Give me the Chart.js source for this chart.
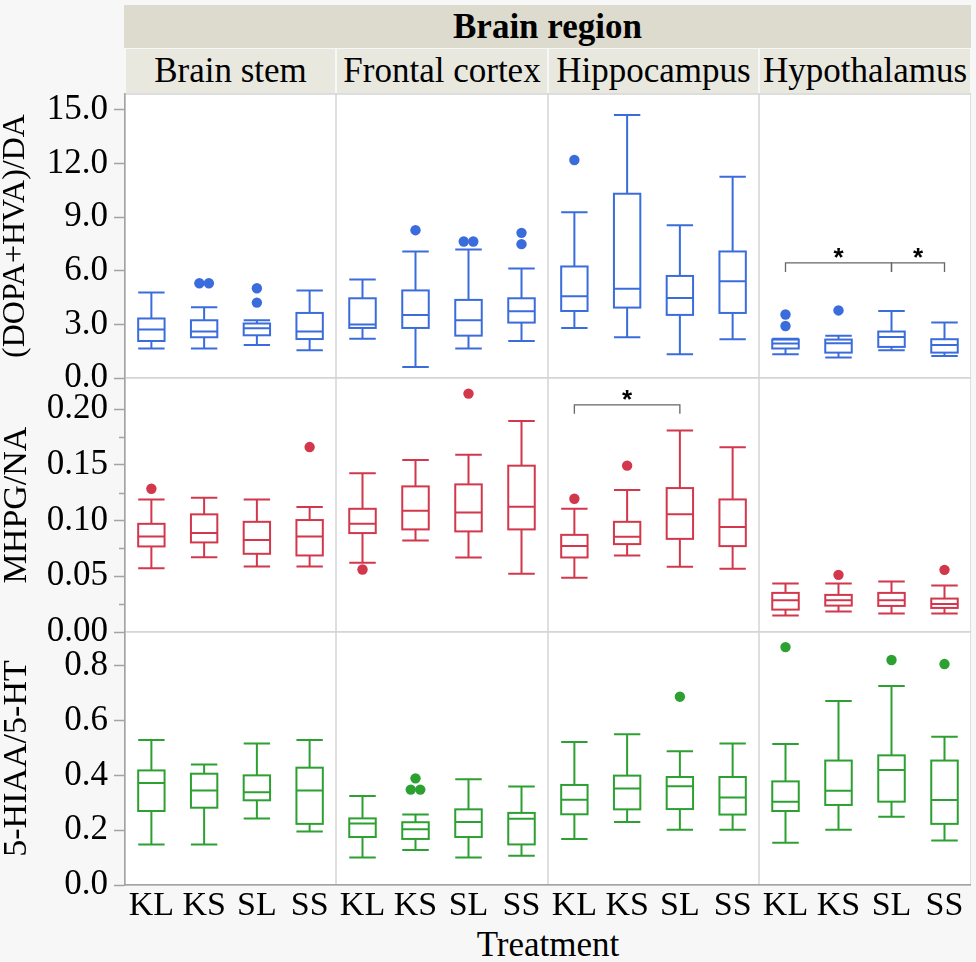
<!DOCTYPE html>
<html>
<head>
<meta charset="utf-8">
<title>Brain region metabolite ratios</title>
<script src="https://cdn.jsdelivr.net/npm/chart.js"></script>
<style>
  body { margin: 0; background: #f7f7f7; font-family: 'Liberation Serif', 'Times New Roman', serif; }
  #fig { position: relative; width: 976px; height: 962px; overflow: hidden; }
  .band, .strip, .xtitle { position: absolute; text-align: center; color: #000; font-size: 35px; white-space: nowrap; }
  .band { left: 124px; top: 5px; width: 847px; height: 43px; line-height: 43px; background: #dcdbce; font-weight: bold; }
  .strip { top: 49px; height: 44px; line-height: 44px; background: #e8e8df; }
  .xtitle { left: 125px; width: 846px; top: 925px; line-height: 40px; }
  canvas { position: absolute; }
</style>
</head>
<body>
<div id="fig">
  <div class="band">Brain region</div>
  <div class="xtitle">Treatment</div>
</div>
<script>
// Categories
const treatments = ['KL', 'KS', 'SL', 'SS'];
const regions = ['Brain stem', 'Frontal cortex', 'Hippocampus', 'Hypothalamus'];
const measures = ['(DOPA+HVA)/DA', 'MHPG/NA', '5-HIAA/5-HT'];

// Tick labels per measure
const daTicks = [0, 3, 6, 9, 12, 15];
const mhpgTicks = [0, 0.05, 0.10, 0.15, 0.20];
const mhpgMinorTicks = [0.025, 0.075, 0.125, 0.175];
const hiaaTicks = [0, 0.2, 0.4, 0.6, 0.8];
const yMax = [15.89, 0.228, 0.923];
const tickDecimals = [1, 2, 1];

// (DOPA+HVA)/DA : one row per brain region, columns KL, KS, SL, SS
const daLow =    [[1.65, 1.65, 1.85, 1.55], [2.19, 0.62, 1.65, 2.07], [2.80, 2.28, 1.33, 2.17], [1.33, 1.14, 1.55, 1.23]];
const daQ1 =     [[2.07, 2.28, 2.39, 2.18], [2.80, 2.80, 2.37, 3.10], [3.75, 3.94, 3.53, 3.64], [1.65, 1.42, 1.74, 1.42]];
const daMedian = [[2.71, 2.60, 2.78, 2.60], [2.99, 3.53, 3.23, 3.74], [4.58, 4.99, 4.48, 5.42], [1.93, 1.94, 2.30, 1.85]];
const daQ3 =     [[3.33, 3.23, 3.05, 3.64], [4.46, 4.90, 4.37, 4.46], [6.24, 10.31, 5.71, 7.08], [2.15, 2.15, 2.60, 2.17]];
const daHigh =   [[4.78, 3.96, 3.23, 4.90], [5.51, 7.08, 7.19, 6.13], [9.27, 14.72, 8.54, 11.26], [2.20, 2.37, 3.75, 3.10]];
const daOutliers = [
  [[], [5.30, 5.30], [5.02, 4.22], []],
  [[], [8.27], [7.64, 7.64], [8.12, 7.49]],
  [[12.2], [], [], []],
  [[3.55, 2.91], [3.78], [], []]
];

// MHPG/NA
const mhpgLow =    [[0.0573, 0.0672, 0.0588, 0.0588], [0.0621, 0.0822, 0.0669, 0.0522], [0.0486, 0.0687, 0.0585, 0.0567], [0.0147, 0.0183, 0.0165, 0.0165]];
const mhpgQ1 =     [[0.0768, 0.0804, 0.0702, 0.0687], [0.0888, 0.0921, 0.0903, 0.0921], [0.0669, 0.0789, 0.0836, 0.0771], [0.0201, 0.0237, 0.0234, 0.0216]];
const mhpgMedian = [[0.0858, 0.0888, 0.0825, 0.0858], [0.0971, 0.1088, 0.1073, 0.1124], [0.0771, 0.0854, 0.1056, 0.0942], [0.0285, 0.0285, 0.0285, 0.0252]];
const mhpgQ3 =     [[0.0971, 0.1056, 0.0989, 0.1005], [0.1106, 0.1307, 0.1325, 0.1493], [0.0872, 0.0989, 0.1292, 0.1190], [0.0351, 0.0333, 0.0351, 0.0300]];
const mhpgHigh =   [[0.1190, 0.1205, 0.1190, 0.1121], [0.1424, 0.1544, 0.1592, 0.1895], [0.1106, 0.1274, 0.1808, 0.1658], [0.0435, 0.0435, 0.0453, 0.0417]];
const mhpgOutliers = [
  [[0.1286], [], [], [0.166]],
  [[0.0561], [], [0.214], []],
  [[0.1196], [0.1493], [], []],
  [[], [0.0513], [], [0.0558]]
];

// 5-HIAA/5-HT
const hiaaLow =    [[0.148, 0.148, 0.243, 0.195], [0.100, 0.128, 0.100, 0.107], [0.168, 0.230, 0.202, 0.202], [0.154, 0.202, 0.249, 0.162]];
const hiaaQ1 =     [[0.270, 0.282, 0.309, 0.223], [0.175, 0.168, 0.175, 0.148], [0.258, 0.276, 0.277, 0.257], [0.270, 0.292, 0.304, 0.223]];
const hiaaMedian = [[0.372, 0.345, 0.338, 0.345], [0.224, 0.203, 0.230, 0.242], [0.311, 0.352, 0.360, 0.319], [0.304, 0.344, 0.420, 0.310]];
const hiaaQ3 =     [[0.418, 0.406, 0.400, 0.428], [0.243, 0.229, 0.276, 0.263], [0.365, 0.399, 0.394, 0.394], [0.378, 0.454, 0.473, 0.454]];
const hiaaHigh =   [[0.529, 0.440, 0.516, 0.529], [0.325, 0.257, 0.386, 0.359], [0.522, 0.550, 0.488, 0.516], [0.514, 0.671, 0.726, 0.541]];
const hiaaOutliers = [
  [[], [], [], []],
  [[], [0.389, 0.348, 0.348], [], []],
  [[], [], [0.687], []],
  [[0.868], [], [0.821], [0.806]]
];

// Significance brackets (measure row, region column, from/to treatment index, height)
const brackets = [
  { measure: 0, region: 3, from: 0, to: 2, y: 6.44 },
  { measure: 0, region: 3, from: 2, to: 3, y: 6.44 },
  { measure: 1, region: 2, from: 0, to: 2, y: 0.2039 }
];

const colors = ['#3b6cdc', '#d2374b', '#2da032'];

const yTicks = [daTicks, mhpgTicks, hiaaTicks];
const minorTicks = [[], mhpgMinorTicks, []];
const boxStats = [
  [daLow, daQ1, daMedian, daQ3, daHigh, daOutliers],
  [mhpgLow, mhpgQ1, mhpgMedian, mhpgQ3, mhpgHigh, mhpgOutliers],
  [hiaaLow, hiaaQ1, hiaaMedian, hiaaQ3, hiaaHigh, hiaaOutliers]
];

// Layout of the grid
const colLeft = [125, 336, 548, 759, 971];
const rowTop = [94, 378, 632, 885];
const PAD = 20, XAXIS_H = 50, YAXIS_W = 125;
const AXIS_GREY = '#a3a3a3';
const SERIF = "'Liberation Serif', 'Times New Roman', serif";
const titleSize = [32, 34, 34];

Chart.defaults.font.family = SERIF;
Chart.defaults.color = '#000';

const fig = document.getElementById('fig');

regions.forEach((name, c) => {
  const d = document.createElement('div');
  d.className = 'strip';
  d.style.left = (colLeft[c] + 1) + 'px';
  d.style.width = (colLeft[c + 1] - colLeft[c] - 2) + 'px';
  d.textContent = name;
  fig.appendChild(d);
});

// outliers that sit at the same height are spread sideways
function outlierPoints(list, range) {
  const pts = [];
  list.forEach((vals, i) => {
    const sorted = vals.slice().sort((a, b) => a - b);
    let k = 0;
    while (k < sorted.length) {
      let n = 1;
      while (k + n < sorted.length && sorted[k + n] - sorted[k] < range * 0.02) n++;
      for (let j = 0; j < n; j++) {
        pts.push({ x: i + (j - (n - 1) / 2) * 0.18, y: sorted[k + j] });
      }
      k += n;
    }
  });
  return pts;
}

// keep the panel edges fixed: no label overflow padding
function noPadding(s) {
  s.paddingTop = 0;
  s.paddingBottom = 0;
  s.paddingLeft = 0;
  s.paddingRight = 0;
}

const boxPlotPlugin = {
  id: 'boxPlot',
  beforeDraw(chart) {
    const { ctx, chartArea: a } = chart;
    ctx.save();
    ctx.fillStyle = '#fff';
    ctx.fillRect(a.left, a.top, a.width, a.height);
    ctx.strokeStyle = '#d4d4d4';
    ctx.lineWidth = 1.5;
    ctx.strokeRect(a.left, a.top, a.width, a.height);
    ctx.restore();
  },
  beforeDatasetsDraw(chart, args, opts) {
    const { ctx } = chart;
    const x = chart.scales.x, y = chart.scales.y;
    const half = (x.getPixelForValue(1) - x.getPixelForValue(0)) / 4;
    ctx.save();
    ctx.strokeStyle = opts.color;
    ctx.lineWidth = 2;
    opts.boxes.forEach((b, i) => {
      const cx = x.getPixelForValue(i);
      const [lo, q1, md, q3, hi] = b.map(v => y.getPixelForValue(v));
      ctx.beginPath();
      ctx.moveTo(cx, hi); ctx.lineTo(cx, q3);
      ctx.moveTo(cx, q1); ctx.lineTo(cx, lo);
      ctx.moveTo(cx - half, hi); ctx.lineTo(cx + half, hi);
      ctx.moveTo(cx - half, lo); ctx.lineTo(cx + half, lo);
      ctx.moveTo(cx - half, md); ctx.lineTo(cx + half, md);
      ctx.stroke();
      ctx.strokeRect(cx - half, q3, 2 * half, q1 - q3);
    });

    // significance brackets
    opts.brackets.forEach(b => {
      const yy = y.getPixelForValue(b.y);
      const x1 = x.getPixelForValue(b.from), x2 = x.getPixelForValue(b.to);
      ctx.strokeStyle = '#666';
      ctx.lineWidth = 1.3;
      ctx.beginPath();
      ctx.moveTo(x1, yy + 9); ctx.lineTo(x1, yy); ctx.lineTo(x2, yy); ctx.lineTo(x2, yy + 9);
      ctx.stroke();
      ctx.fillStyle = '#000';
      ctx.font = "bold 26px 'Liberation Sans', sans-serif";
      ctx.textAlign = 'center';
      ctx.textBaseline = 'middle';
      ctx.fillText('*', (x1 + x2) / 2, yy - 4);
    });
    ctx.restore();
  },
  afterDraw(chart, args, opts) {
    const y = chart.scales.y;
    if (!opts.showAxis || !opts.minor.length) return;
    const { ctx } = chart;
    ctx.save();
    ctx.strokeStyle = AXIS_GREY;
    ctx.lineWidth = 1.5;
    ctx.beginPath();
    opts.minor.forEach(v => {
      const py = Math.round(y.getPixelForValue(v)) + 0.5;
      ctx.moveTo(y.right - 6, py);
      ctx.lineTo(y.right, py);
    });
    ctx.stroke();
    ctx.restore();
  }
};

function makePanel(r, c) {
  const firstCol = c === 0;
  const lastRow = r === measures.length - 1;
  const left = firstCol ? 0 : colLeft[c];
  const width = colLeft[c + 1] - left;
  const top = rowTop[r] - PAD;
  const height = rowTop[r + 1] - rowTop[r] + PAD + (lastRow ? XAXIS_H : PAD);

  const canvas = document.createElement('canvas');
  canvas.width = width;
  canvas.height = height;
  canvas.style.left = left + 'px';
  canvas.style.top = top + 'px';
  fig.appendChild(canvas);

  const [low, q1, med, q3, high, out] = boxStats[r];
  const boxes = treatments.map((t, i) => [low[c][i], q1[c][i], med[c][i], q3[c][i], high[c][i]]);

  new Chart(canvas, {
    type: 'scatter',
    data: {
      datasets: [{
        data: outlierPoints(out[c], yMax[r]),
        pointRadius: 5.2,
        pointBackgroundColor: colors[r],
        pointBorderWidth: 0,
        clip: false
      }]
    },
    options: {
      responsive: false,
      animation: false,
      events: [],
      layout: { autoPadding: false, padding: { top: PAD, bottom: lastRow ? 0 : PAD, left: 0, right: 0 } },
      plugins: {
        legend: { display: false },
        tooltip: { enabled: false },
        boxPlot: {
          color: colors[r],
          boxes: boxes,
          brackets: brackets.filter(b => b.measure === r && b.region === c),
          minor: minorTicks[r],
          showAxis: firstCol
        }
      },
      scales: {
        x: {
          type: 'linear',
          min: -0.5,
          max: 3.5,
          display: lastRow,
          grid: { display: false, drawTicks: false },
          border: { display: true, color: AXIS_GREY, width: 1.5 },
          afterBuildTicks: s => { s.ticks = treatments.map((t, i) => ({ value: i })); },
          afterFit: s => { s.height = lastRow ? XAXIS_H : 0; noPadding(s); },
          ticks: {
            callback: v => treatments[v],
            color: '#000',
            font: { family: SERIF, size: 34 },
            padding: 1,
            maxRotation: 0,
            autoSkip: false
          }
        },
        y: {
          type: 'linear',
          min: 0,
          max: yMax[r],
          display: firstCol,
          afterBuildTicks: s => { s.ticks = yTicks[r].map(v => ({ value: v })); },
          afterFit: s => { s.width = firstCol ? YAXIS_W : 0; noPadding(s); },
          grid: {
            display: true,
            drawOnChartArea: false,
            drawTicks: true,
            tickLength: 11,
            tickColor: AXIS_GREY,
            tickWidth: 1.5
          },
          border: { display: true, color: AXIS_GREY, width: 1.5 },
          ticks: {
            callback: v => v.toFixed(tickDecimals[r]),
            color: '#000',
            font: { family: SERIF, size: 35 },
            padding: 6,
            autoSkip: false
          },
          title: {
            display: true,
            text: measures[r],
            color: '#000',
            font: { family: SERIF, size: titleSize[r], lineHeight: 1 },
            padding: 0
          }
        }
      }
    },
    plugins: [boxPlotPlugin]
  });
}

measures.forEach((m, r) => regions.forEach((name, c) => makePanel(r, c)));
</script>
</body>
</html>
